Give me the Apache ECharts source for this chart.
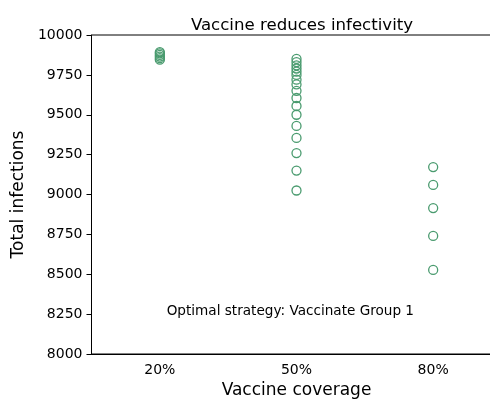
<!DOCTYPE html>
<html>
<head>
<meta charset="utf-8">
<script src="https://cdn.jsdelivr.net/npm/echarts@6/dist/echarts.min.js"></script>
<style>
  html, body { margin: 0; padding: 0; background: #fff; }
  #chart { width: 490px; height: 401px; }
</style>
</head>
<body>
<div id="chart"></div>
<script>
var coverages = ['20%', '50%', '80%'];

var infections20 = [9845, 9855, 9865, 9875, 9885, 9893];
var infections50 = [9850, 9830, 9810, 9790, 9770, 9750, 9720, 9690, 9650, 9605,
                    9555, 9500, 9430, 9355, 9260, 9150, 9025];
var infections80 = [9172, 9060, 8915, 8740, 8527];

var annotationY = 8265;
var annotationText = 'Optimal strategy: Vaccinate Group 1';

var points = [];
infections20.forEach(function(v){ points.push([0, v]); });
infections50.forEach(function(v){ points.push([1, v]); });
infections80.forEach(function(v){ points.push([2, v]); });

var font = 'DejaVu Sans';
var chart = echarts.init(document.getElementById('chart'));

var option = {
    animation: false,
    title: {
        text: 'Vaccine reduces infectivity',
        left: 297,
        top: 12,
        textAlign: 'center',
        textStyle: { fontFamily: font, fontSize: 16.6, fontWeight: 'normal', color: '#000' }
    },
    grid: {
        left: 91.5,
        top: 35,
        width: 410,
        height: 319,
        outerBoundsMode: 'none',
        containLabel: false,
        show: true,
        borderColor: '#000',
        borderWidth: 1
    },
    xAxis: {
        type: 'category',
        data: coverages,
        boundaryGap: true,
        name: 'Vaccine coverage',
        nameLocation: 'middle',
        nameGap: 26,
        nameTextStyle: { fontFamily: font, fontSize: 17, color: '#000' },
        axisLine: { lineStyle: { color: '#000', width: 1 } },
        axisTick: { alignWithLabel: true, length: 5, lineStyle: { color: '#000' } },
        axisLabel: { fontFamily: font, fontSize: 14, color: '#000', margin: 9 },
        splitLine: { show: false }
    },
    yAxis: {
        type: 'value',
        min: 8000,
        max: 10000,
        interval: 250,
        name: 'Total infections',
        nameLocation: 'middle',
        nameGap: 55,
        nameTextStyle: { fontFamily: font, fontSize: 17, color: '#000' },
        axisLine: { show: true, lineStyle: { color: '#000', width: 1 } },
        axisTick: { show: true, length: 5, lineStyle: { color: '#000' } },
        axisLabel: {
            fontFamily: font, fontSize: 14, color: '#000', margin: 9,
            formatter: function(v){ return String(v); }
        },
        splitLine: { show: false }
    },
    series: [
        {
            type: 'scatter',
            data: points,
            symbol: 'circle',
            symbolSize: 9,
            itemStyle: {
                color: 'rgba(0,0,0,0)',
                borderColor: '#4a9b6f',
                borderWidth: 1.3,
                opacity: 1
            }
        }
    ]
};

chart.setOption(option);

// annotation placed through the axes' own scales
var anchor = chart.convertToPixel({ gridIndex: 0 }, [0, annotationY]);
var band = chart.convertToPixel({ gridIndex: 0 }, [1, annotationY])[0] - anchor[0];
chart.setOption({
    graphic: [{
        type: 'text',
        x: anchor[0] + band * 0.05,
        y: anchor[1],
        silent: true,
        style: {
            text: annotationText,
            fontFamily: font,
            fontSize: 13.6,
            fill: '#000',
            textAlign: 'left',
            textVerticalAlign: 'middle'
        }
    }]
});
</script>
</body>
</html>
